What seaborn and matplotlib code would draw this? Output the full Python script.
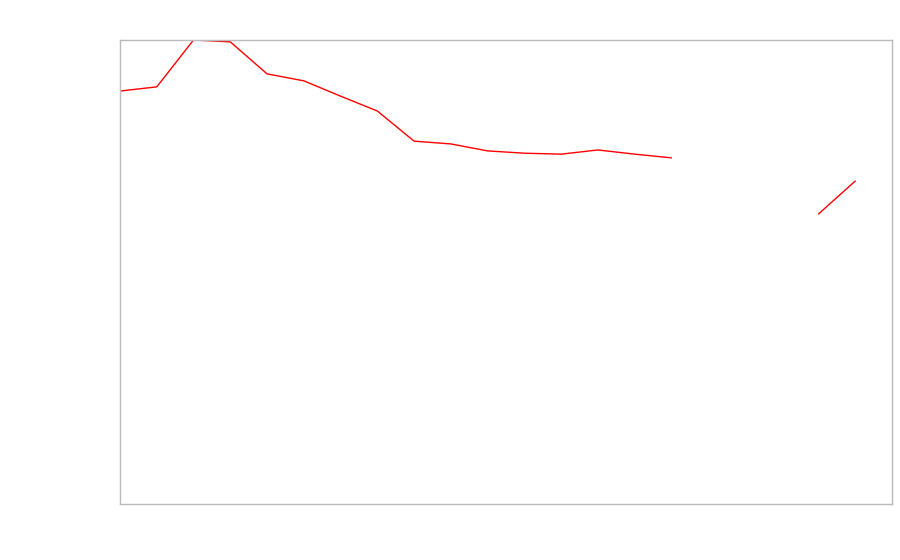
import numpy as np
import pandas as pd
import matplotlib
matplotlib.use("Agg")
import matplotlib.pyplot as plt
import seaborn as sns

# values, gaps are missing data
step = list(range(21))
value = [89.0, 89.9, 100.0, 99.6, 92.7, 91.2, 87.9, 84.7, 78.2, 77.6, 76.1,
         75.6, 75.4, 76.3, 75.4, 74.6, np.nan, np.nan, np.nan, 62.5, 69.6]

df = pd.DataFrame({"step": step, "value": value})

sns.set_style("white")

fig = plt.figure(figsize=(9, 5.6), dpi=100)
ax = fig.add_axes([120 / 900, 56 / 560, 772 / 900, 464 / 560])

# plain matplotlib line through seaborn's axes so NaN breaks the line
sns.lineplot(data=df, x="step", y="value", color="red", linewidth=1, ax=ax,
             estimator=None, sort=False)
ax.lines[0].set_data(df["step"], df["value"])

ax.set_xlim(0, 21)
ax.set_ylim(0, 100)
ax.set_xticks([])
ax.set_yticks([])
ax.set_xlabel("")
ax.set_ylabel("")
for s in ax.spines.values():
    s.set_color("#bbbbbb")
    s.set_linewidth(1)

fig.savefig("out.png", dpi=100)
